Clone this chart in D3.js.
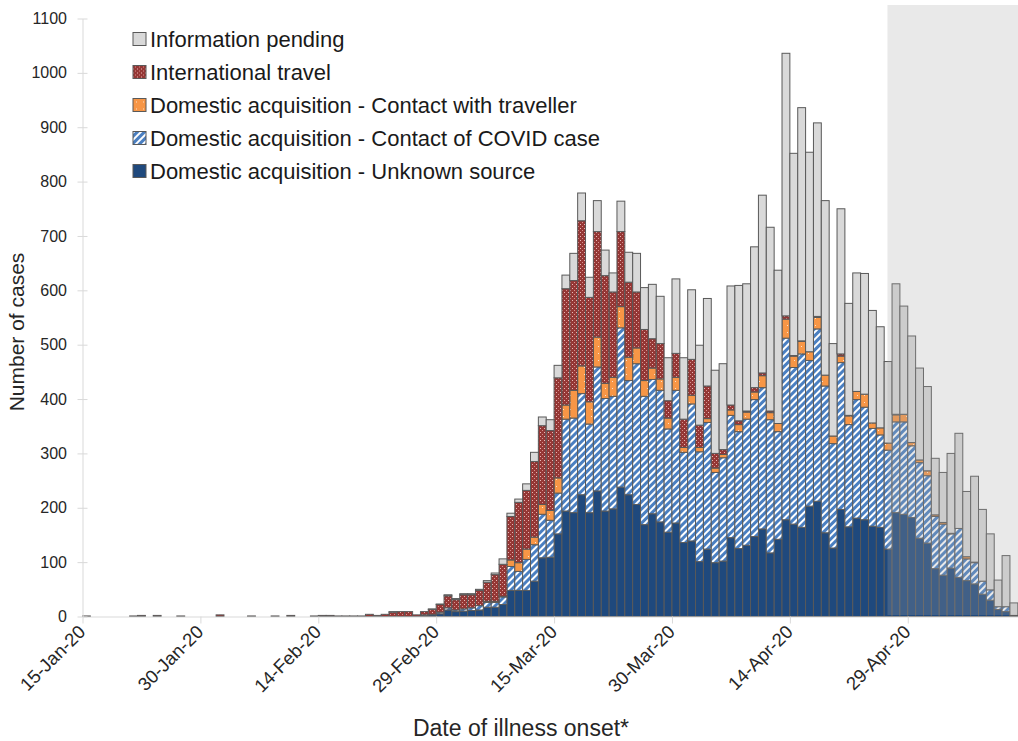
<!DOCTYPE html>
<html>
<head>
<meta charset="utf-8">
<script src="https://cdn.jsdelivr.net/npm/d3@7"></script>
<style>
body { margin: 0; background: #fff; font-family: "Liberation Sans", Arial, sans-serif; }
</style>
</head>
<body>
<div id="chart"></div>
<script>
// Daily counts by date of illness onset, first day = 15-Jan-20
var firstDay = "2020-01-15";

var unknownSource = [
  0,0,0,0,0,0,0,0,0,0,
  0,0,0,0,0,0,0,0,0,0,
  0,0,0,0,0,0,0,0,0,0,
  0,0,0,0,0,0,0,0,0,0,
  0,0,0,1,3,5,12,9,10,11,
  12,17,17,22,48,48,48,65,108,109,
  152,194,191,224,191,231,194,198,238,224,
  206,169,189,174,155,172,136,139,101,124,
  99,102,145,125,131,147,161,117,142,178,
  170,164,203,212,154,126,197,165,181,178,
  166,164,124,191,188,182,144,135,88,76,
  89,72,66,60,41,30,13,9,1];

var contactCase = [
  0,0,0,0,0,0,0,0,0,0,
  0,0,0,0,0,0,0,0,0,0,
  0,0,0,0,0,0,0,0,0,0,
  0,0,0,0,0,0,0,0,0,0,
  0,0,0,2,1,3,4,3,4,5,
  8,9,9,14,44,35,57,67,80,68,
  75,169,174,186,163,228,207,207,293,210,
  259,236,247,242,190,244,166,252,202,233,
  166,190,225,215,232,252,260,245,198,334,
  288,319,268,317,270,192,270,188,218,207,
  180,170,182,167,170,132,139,124,96,94,
  63,90,40,39,24,19,5,9,1];

var contactTraveller = [
  0,0,0,0,0,0,0,0,0,0,
  0,0,0,0,0,0,0,0,0,0,
  0,0,0,0,0,0,0,0,0,0,
  0,0,0,0,0,0,0,0,0,0,
  0,0,0,0,0,0,0,0,0,0,
  0,2,2,1,12,16,19,14,18,18,
  28,26,51,51,41,55,28,35,39,43,
  29,29,21,21,20,24,9,16,8,7,
  8,6,10,13,13,14,22,13,15,35,
  21,23,16,21,20,14,12,16,15,24,
  10,13,13,13,14,6,5,9,3,3,
  1,0,4,1,0,0,0,0,0];

var intlTravel = [
  1,0,0,0,0,0,1,2,0,2,
  0,0,1,0,0,0,0,3,0,0,
  0,1,0,0,1,0,2,0,0,1,
  2,2,1,1,1,1,4,2,4,8,
  9,9,3,6,9,14,22,19,26,24,
  28,35,49,59,80,111,108,139,145,147,
  184,214,202,267,192,194,198,157,138,138,
  103,94,54,65,32,44,52,66,41,60,
  27,9,9,7,2,8,5,3,0,6,
  1,1,0,2,0,0,4,1,0,0,
  0,0,0,1,0,0,0,0,0,0,
  0,0,0,0,0,0,0,0,0];

var pending = [
  0,0,0,0,0,0,0,0,0,0,
  0,0,0,0,0,0,0,0,0,0,
  0,0,0,0,0,0,0,0,0,0,
  0,0,0,0,0,0,0,0,0,1,
  0,0,0,0,1,1,2,2,2,2,
  2,3,3,10,6,6,12,17,16,20,
  23,25,50,51,37,57,47,35,56,55,
  71,77,100,87,79,137,113,128,147,161,
  153,158,219,249,234,259,327,338,282,483,
  372,429,367,356,321,170,267,206,218,222,
  207,186,150,240,199,196,169,155,104,92,
  147,175,120,158,132,103,49,94,23];

// legend, top to bottom
var legendLabels = [
  "Information pending",
  "International travel",
  "Domestic acquisition - Contact with traveller",
  "Domestic acquisition - Contact of COVID case",
  "Domestic acquisition - Unknown source"];
var legendKeys = ["pending", "travel", "traveller", "contact", "unknown"];

var yTicks = [0,100,200,300,400,500,600,700,800,900,1000,1100];
var xTickDates = ["2020-01-15","2020-01-30","2020-02-14","2020-02-29",
                  "2020-03-15","2020-03-30","2020-04-14","2020-04-29"];
// recent days, data still incomplete (shaded)
var shadeStart = "2020-04-26T10:00";

var fills = {
  unknown: "#1f497d",
  contact: "url(#patContact)",
  traveller: "url(#patTraveller)",
  travel: "url(#patTravel)",
  pending: "#d9d9d9"
};

var width = 1018, height = 741;
var svg = d3.select("#chart").append("svg")
  .attr("width", width).attr("height", height);

// patterns
var defs = svg.append("defs");
var pt = defs.append("pattern").attr("id", "patTravel")
  .attr("patternUnits", "userSpaceOnUse").attr("width", 4).attr("height", 4);
pt.append("rect").attr("width", 4).attr("height", 4).attr("fill", "#953735");
pt.append("rect").attr("x", 0).attr("y", 0).attr("width", 1).attr("height", 1).attr("fill", "#e8b8b7");
pt.append("rect").attr("x", 2).attr("y", 2).attr("width", 1).attr("height", 1).attr("fill", "#d9908e");

var po = defs.append("pattern").attr("id", "patTraveller")
  .attr("patternUnits", "userSpaceOnUse").attr("width", 7).attr("height", 7);
po.append("rect").attr("width", 7).attr("height", 7).attr("fill", "#f79646");
po.append("rect").attr("x", 3).attr("y", 3).attr("width", 1).attr("height", 1).attr("fill", "#fde2cc");

var pc = defs.append("pattern").attr("id", "patContact")
  .attr("patternUnits", "userSpaceOnUse").attr("width", 5).attr("height", 5)
  .attr("patternTransform", "rotate(45)");
pc.append("rect").attr("width", 5).attr("height", 5).attr("fill", "#4a7fc1");
pc.append("rect").attr("width", 2).attr("height", 5).attr("fill", "#ffffff");

// data rows
var parseDay = d3.utcParse("%Y-%m-%d");
var t0 = parseDay(firstDay);
var rows = unknownSource.map(function(v, i) {
  return {
    date: d3.utcDay.offset(t0, i),
    unknown: v,
    contact: contactCase[i],
    traveller: contactTraveller[i],
    travel: intlTravel[i],
    pending: pending[i]
  };
});

var x = d3.scaleUtc()
  .domain([t0, d3.utcDay.offset(t0, rows.length)])
  .range([82.5, 1017.8]);
var y = d3.scaleLinear().domain([0, 1100]).range([616.5, 18.5]);

var stack = d3.stack().keys(["unknown", "contact", "traveller", "travel", "pending"]);
var series = stack(rows);

// bars
var layers = svg.append("g").selectAll("g")
  .data(series)
  .enter().append("g")
    .attr("fill", function(s) { return fills[s.key]; });

layers.selectAll("rect")
  .data(function(s) { return s.filter(function(d) { return d[1] - d[0] > 0; }); })
  .enter().append("rect")
    .attr("x", function(d) { return x(d.data.date); })
    .attr("width", function(d) { return x(d3.utcDay.offset(d.data.date, 1)) - x(d.data.date); })
    .attr("y", function(d) { return y(d[1]); })
    .attr("height", function(d) { return y(d[0]) - y(d[1]); })
    .attr("stroke", "#595959")
    .attr("stroke-width", 1);

// shaded area over the last days
svg.append("rect")
  .attr("x", x(new Date(shadeStart + "Z")))
  .attr("y", 5)
  .attr("width", width - x(new Date(shadeStart + "Z")))
  .attr("height", y(0) - 6.5)
  .attr("fill", "#a6a6a6")
  .attr("opacity", 0.25);

// x axis
var xAxis = d3.axisBottom(x)
  .tickValues(xTickDates.map(parseDay))
  .tickFormat(d3.utcFormat("%d-%b-%y"))
  .tickSize(7).tickSizeOuter(0);
var gx = svg.append("g").attr("transform", "translate(0," + y(0) + ")").call(xAxis);
gx.select(".domain").attr("stroke", "#d9d9d9");
gx.selectAll(".tick line").attr("stroke", "#d9d9d9");
gx.selectAll(".tick text")
  .attr("font-family", "Liberation Sans, Arial, sans-serif")
  .attr("font-size", 18.5)
  .attr("fill", "#262626")
  .attr("text-anchor", "end")
  .attr("x", 0).attr("y", 0).attr("dy", "0.35em")
  .attr("transform", "translate(-1,12) rotate(-45)");

// y axis
var yAxis = d3.axisLeft(y).tickValues(yTicks).tickFormat(d3.format("d"))
  .tickSize(5).tickSizeOuter(0).tickPadding(10.5);
var gy = svg.append("g").attr("transform", "translate(82.5,0)").call(yAxis);
gy.select(".domain").attr("stroke", "#d9d9d9");
gy.selectAll(".tick line").attr("stroke", "#d9d9d9").attr("x1", -5).attr("x2", 5);
gy.selectAll(".tick text")
  .attr("font-family", "Liberation Sans, Arial, sans-serif")
  .attr("font-size", 16)
  .attr("fill", "#262626");

// axis titles
svg.append("text")
  .attr("transform", "translate(24,332) rotate(-90)")
  .attr("text-anchor", "middle")
  .attr("font-size", 21)
  .attr("fill", "#262626")
  .text("Number of cases");

svg.append("text")
  .attr("x", 521).attr("y", 736)
  .attr("text-anchor", "middle")
  .attr("font-size", 23)
  .attr("fill", "#262626")
  .text("Date of illness onset*");

// legend
var legend = svg.append("g").selectAll("g")
  .data(legendLabels)
  .enter().append("g")
    .attr("transform", function(d, i) { return "translate(133," + (39.5 + i * 33) + ")"; });
legend.append("rect")
  .attr("x", 0).attr("y", -7).attr("width", 13).attr("height", 13)
  .attr("fill", function(d, i) { return fills[legendKeys[i]]; })
  .attr("stroke", "#595959").attr("stroke-width", 1);
legend.append("text")
  .attr("x", 17).attr("dy", "0.35em")
  .attr("font-size", 22)
  .attr("fill", "#1a1a1a")
  .text(function(d) { return d; });
</script>
</body>
</html>
